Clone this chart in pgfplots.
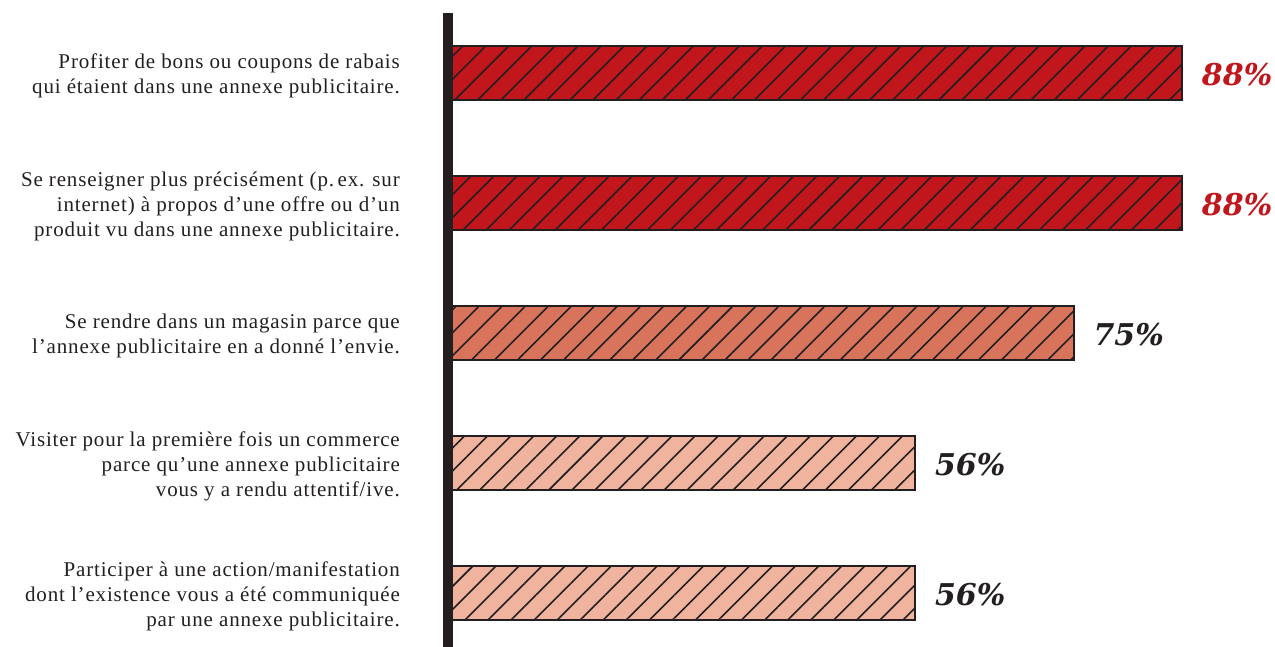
\documentclass[border=0pt]{standalone}
\usepackage{fontspec}
\setmainfont{Liberation Serif}[LetterSpace=4]
\newfontfamily\pctfont{DejaVu Serif}
\usepackage{pgfplots}
\pgfplotsset{compat=1.18}
\usetikzlibrary{patterns.meta}
\definecolor{cA}{HTML}{C1161C}
\definecolor{cB}{HTML}{D9745C}
\definecolor{cC}{HTML}{F0B49E}
\definecolor{outl}{HTML}{231F20}
\begin{document}
\begin{tikzpicture}
\path[use as bounding box] (0,0) rectangle (1275pt,647pt);
\begin{axis}[
  at={(448pt,0pt)}, anchor=south west,
  scale only axis, width=734pt, height=634pt,
  xmin=0, xmax=88, ymin=-0.4154, ymax=4.4615,
  axis x line=none, axis y line=left,
  y axis line style={-, line width=10pt, draw=outl},
  axis on top,
  ytick={0,1,2,3,4}, major tick length=0pt,
  yticklabels={
    {Participer à une action/manifestation\\dont l’existence vous a été communiquée\\par une annexe publicitaire.},
    {Visiter pour la première fois un commerce\\parce qu’une annexe publicitaire\\vous y a rendu attentif/ive.},
    {Se rendre dans un magasin parce que\\l’annexe publicitaire en a donné l’envie.},
    {Se renseigner plus précisément (p.\,ex. sur\\internet) à propos d’une offre ou d’un\\produit vu dans une annexe publicitaire.},
    {Profiter de bons ou coupons de rabais\\qui étaient dans une annexe publicitaire.}
  },
  yticklabel style={align=right, text=outl, font=\fontsize{21}{25}\selectfont, inner sep=0pt, xshift=-48pt, yshift=-3pt},
  xbar, bar width=54pt, bar shift=0pt,
  clip=false,
  nodes near coords={\pgfmathprintnumber{\pgfplotspointmeta}\%},
  nodes near coords style={anchor=west, inner sep=0pt, xshift=19pt, yshift=-2pt,
    font=\pctfont\bfseries\itshape\fontsize{30}{30}\selectfont,
    /pgf/number format/assume math mode=true},
]
\addplot[fill=cA, draw=outl, line width=2pt,
  postaction={pattern={Lines[angle=45,distance=16.3pt,line width=1.6pt]}, pattern color=outl},
  every node near coord/.append style={text=cA}] coordinates {(88,4)};
\addplot[fill=cA, draw=outl, line width=2pt,
  postaction={pattern={Lines[angle=45,distance=16.3pt,line width=1.6pt]}, pattern color=outl},
  every node near coord/.append style={text=cA}] coordinates {(88,3)};
\addplot[fill=cB, draw=outl, line width=2pt,
  postaction={pattern={Lines[angle=45,distance=16.3pt,line width=1.6pt]}, pattern color=outl},
  every node near coord/.append style={text=outl}] coordinates {(75,2)};
\addplot[fill=cC, draw=outl, line width=2pt,
  postaction={pattern={Lines[angle=45,distance=16.3pt,line width=1.6pt]}, pattern color=outl},
  every node near coord/.append style={text=outl}] coordinates {(56,1)};
\addplot[fill=cC, draw=outl, line width=2pt,
  postaction={pattern={Lines[angle=45,distance=16.3pt,line width=1.6pt]}, pattern color=outl},
  every node near coord/.append style={text=outl}] coordinates {(56,0)};
\end{axis}
\end{tikzpicture}
\end{document}
